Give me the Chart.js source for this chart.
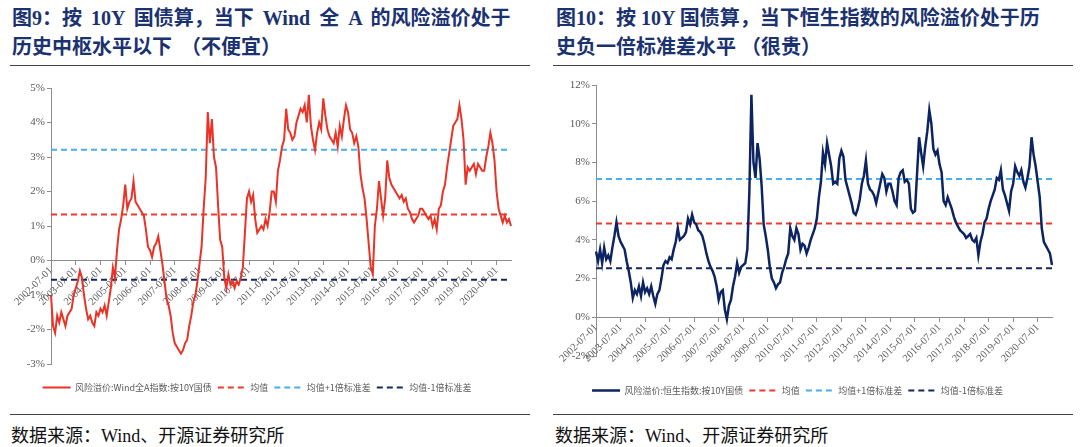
<!DOCTYPE html>
<html>
<head>
<meta charset="utf-8">
<script src="https://cdn.jsdelivr.net/npm/chart.js@4.4.0/dist/chart.umd.min.js"></script>
<style>
  body { margin: 0; background: #fff; width: 1080px; height: 447px; position: relative; overflow: hidden; }
  .title { position: absolute; top: 4px; font-family: "Liberation Serif", "Noto Sans CJK SC", serif; font-weight: bold;
           font-size: 20px; line-height: 29px; color: #1b3270; white-space: nowrap; }
  .rule { position: absolute; height: 1px; background: #444; }
  .src { position: absolute; top: 421px; font-family: "Liberation Serif", "Noto Sans CJK SC", serif; font-size: 18px; color: #111; }
  .box { position: absolute; top: 72px; width: 540px; height: 325px; }
</style>
</head>
<body>
<div class="title" style="left:12px; word-spacing:4px">图9：按 10Y 国债算，当下 Wind 全 A 的风险溢价处于<br>历史中枢水平以下 （不便宜）</div>
<div class="title" style="left:556px">图10：按 10Y 国债算，当下恒生指数的风险溢价处于历<br>史负一倍标准差水平 （很贵）</div>
<div class="rule" style="left:10px; width:520px; top:65px"></div>
<div class="rule" style="left:553px; width:520px; top:65px"></div>
<div class="box" style="left:0px"><canvas id="chart-a"></canvas></div>
<div class="box" style="left:540px"><canvas id="chart-h"></canvas></div>
<div class="rule" style="left:10px; width:520px; top:414px"></div>
<div class="rule" style="left:553px; width:520px; top:414px"></div>
<div class="src" style="left:11px">数据来源：Wind、开源证券研究所</div>
<div class="src" style="left:555px">数据来源：Wind、开源证券研究所</div>
<script>
// monthly points, 2002-07 .. 2021-02
const TICK_LABELS = ["2002-07-01", "2003-07-01", "2004-07-01", "2005-07-01", "2006-07-01", "2007-07-01", "2008-07-01",
  "2009-07-01", "2010-07-01", "2011-07-01", "2012-07-01", "2013-07-01", "2014-07-01", "2015-07-01", "2016-07-01",
  "2017-07-01", "2018-07-01", "2019-07-01", "2020-07-01"]

// 风险溢价:Wind全A指数:按10Y国债 (%)
const WIND_A = [
  -1.0, -1.9, -2.1, -1.6, -1.8, -1.5, -1.7, -1.9, -1.6, -1.5,
  -1.4, -1.0, -0.8, -0.6, -0.3, -0.5, -1.0, -1.4, -1.7, -1.6,
  -1.8, -1.9, -1.5, -1.6, -1.4, -1.5, -1.3, -1.6, -1.2, -0.8,
  -0.2, -0.5, 0.3, 0.9, 1.2, 1.6, 2.2, 1.5, 1.7, 1.8,
  2.3, 1.7, 1.6, 1.5, 1.4, 1.3, 0.9, 0.4, 0.3, 0.1,
  0.4, 0.5, 0.7, 0.3, -0.1, -0.6, -1.1, -1.3, -1.6, -2.1,
  -2.4, -2.5, -2.6, -2.7, -2.6, -2.4, -2.3, -1.9, -1.6, -1.2,
  -1.0, -0.6, -0.1, 0.4, 1.5, 2.4, 4.3, 3.4, 4.1, 3.0,
  2.7, 1.6, 0.6, 0.4, -0.5, -0.8, -0.4, -0.7, -0.6, -0.8,
  -0.6, -0.7, -0.5, -0.2, 0.8, 1.8, 2.0, 1.7, 1.9, 1.2,
  0.8, 0.9, 1.0, 0.9, 1.2, 1.0, 1.4, 2.0, 2.0, 1.7,
  2.6, 2.9, 3.3, 3.5, 4.4, 3.8, 3.7, 3.5, 3.6, 4.0,
  4.2, 4.4, 4.3, 4.5, 4.0, 4.8, 3.9, 3.5, 3.2, 3.7,
  4.0, 3.8, 4.7, 4.2, 3.8, 3.6, 3.5, 3.4, 3.7, 3.3,
  3.9, 3.6, 4.1, 4.5, 4.3, 3.8, 3.7, 3.4, 3.6, 3.3,
  2.5, 2.1, 1.8, 1.2, 0.5, -0.2, -0.4, 1.0, 1.5, 2.3,
  1.8, 1.3, 1.8, 2.9, 2.4, 2.2, 2.1, 2.0, 1.9, 1.8,
  1.9, 1.7, 1.8, 1.5, 1.4, 1.2, 1.1, 1.2, 1.3, 1.5,
  1.5, 1.4, 1.3, 1.2, 1.3, 1.0, 1.2, 0.9, 1.5, 1.6,
  2.0, 2.2, 2.7, 3.1, 3.5, 3.9, 4.0, 4.1, 4.5, 4.1,
  3.5, 2.2, 2.7, 2.6, 2.7, 2.8, 2.5, 2.8, 2.7, 2.6,
  2.6, 3.0, 3.3, 3.7, 3.4, 2.9, 2.0, 1.5, 1.3, 1.1,
  1.3, 1.1, 1.2, 1.0
]
const WIND_A_MEAN = 1.33
const WIND_A_UP = 3.21
const WIND_A_DOWN = -0.56

// 风险溢价:恒生指数:按10Y国债 (%)
const HSI = [
  3.4, 2.9, 3.5, 2.8, 3.6, 3.0, 3.2, 2.9, 3.6, 4.2,
  4.9, 4.2, 3.9, 3.7, 3.5, 2.9, 2.4, 1.8, 1.0, 1.4,
  1.2, 1.6, 1.1, 1.8, 1.3, 1.5, 1.2, 1.6, 1.1, 0.7,
  1.2, 1.4, 2.0, 2.7, 2.9, 2.8, 3.1, 3.0, 3.5, 3.9,
  4.6, 4.0, 4.1, 4.2, 4.4, 5.1, 4.8, 5.3, 4.9, 4.8,
  4.5, 4.4, 4.2, 3.8, 3.3, 2.9, 2.6, 2.4, 2.1, 1.6,
  0.9, 1.3, 1.4, 0.4, -0.1, 0.6, 0.9, 1.6, 2.1, 2.8,
  2.3, 2.6, 2.7, 2.8, 3.5, 6.5, 11.5, 8.0, 7.2, 9.0,
  8.2, 6.8, 4.8, 4.2, 3.5, 2.6, 2.0, 1.8, 1.5, 1.7,
  1.8, 2.3, 2.6, 3.0, 3.3, 4.6, 4.2, 4.0, 4.6, 4.3,
  3.5, 3.8, 3.7, 3.3, 3.6, 4.0, 4.3, 4.6, 5.1, 6.2,
  7.0, 8.5, 7.9, 9.0, 8.4, 7.8, 6.9, 7.0, 6.9, 8.2,
  8.6, 8.3, 7.1, 6.7, 6.3, 5.9, 5.4, 5.3, 5.6, 6.1,
  6.9, 7.3, 8.1, 6.9, 6.6, 6.5, 6.3, 5.9, 6.4, 6.9,
  7.4, 7.2, 6.5, 6.9, 6.9, 6.5, 6.0, 5.8, 7.2, 7.5,
  7.6, 7.0, 7.1, 6.9, 5.6, 5.4, 5.5, 7.4, 9.3, 8.5,
  7.8, 8.8, 9.6, 10.7, 10.0, 8.7, 8.4, 8.6, 7.9, 7.5,
  6.0, 5.8, 6.2, 5.9, 5.6, 5.2, 4.9, 4.7, 4.5, 4.4,
  4.3, 4.1, 4.2, 4.3, 4.0, 3.9, 4.1, 3.2, 3.9, 4.3,
  4.9, 5.1, 5.6, 6.0, 6.3, 6.6, 7.2, 7.1, 7.6, 6.6,
  6.3, 5.9, 5.5, 6.5, 6.9, 7.8, 7.5, 7.3, 7.6, 7.0,
  6.7, 7.2, 7.8, 9.3, 8.4, 7.8, 7.0, 6.2, 4.6, 3.9,
  3.7, 3.5, 3.3, 2.7
]
const HSI_MEAN = 4.84
const HSI_UP = 7.15
const HSI_DOWN = 2.53

const GREY = "#595959"
const SERIF = "'Liberation Serif', 'Times New Roman', serif"
const CJK = "'Noto Sans CJK SC', sans-serif"

// month labels for the category axis
var meses = []
for (let i = 0; i < WIND_A.length; i++) {
    let y = 2002 + Math.floor((6 + i) / 12)
    let m = (6 + i) % 12 + 1
    meses.push(y + "-" + (m < 10 ? "0" + m : m))
}

function nivel(valor) {
    return meses.map(() => valor)
}

// push the legend a few px lower than Chart.js puts it
const bajarLeyenda = {
    id: "bajarLeyenda",
    afterLayout(chart, args, opts) {
        chart.legend.top += opts.dy
        chart.legend.bottom += opts.dy
    }
}

function makeChart(id, nombre, serie, color, ancho, media, arriba, abajo, ymin, ymax, ystep, ejeY, pad, dy) {
    var ctx = document.getElementById(id).getContext("2d");
    return new Chart(ctx, {
        type: "line",
        data: {
            labels: meses,
            datasets: [{
                    label: nombre,
                    data: serie,
                    borderColor: color,
                    backgroundColor: color,
                    borderWidth: ancho,
                    pointRadius: 0,
                    tension: 0
                },
                {
                    label: "均值",
                    data: nivel(media),
                    borderColor: "#ee3a2c",
                    backgroundColor: "#ee3a2c",
                    borderWidth: 2,
                    borderDash: [6, 4],
                    pointRadius: 0
                },
                {
                    label: "均值+1倍标准差",
                    data: nivel(arriba),
                    borderColor: "#4aaee8",
                    backgroundColor: "#4aaee8",
                    borderWidth: 2,
                    borderDash: [6, 4],
                    pointRadius: 0
                },
                {
                    label: "均值-1倍标准差",
                    data: nivel(abajo),
                    borderColor: "#13295e",
                    backgroundColor: "#13295e",
                    borderWidth: 2,
                    borderDash: [6, 4],
                    pointRadius: 0
                }
            ]
        },
        plugins: [bajarLeyenda],
        options: {
            responsive: true,
            maintainAspectRatio: false,
            animation: false,
            layout: { padding: pad },
            plugins: {
                tooltip: { enabled: false },
                bajarLeyenda: { dy: dy },
                legend: {
                    position: "bottom",
                    labels: {
                        boxWidth: 28,
                        boxHeight: 0,
                        padding: 6,
                        color: GREY,
                        font: { family: CJK, size: 9 }
                    }
                }
            },
            scales: {
                x: {
                    position: { y: 0 },
                    grid: { drawOnChartArea: false, tickLength: 4, color: "#8c8c8c" },
                    border: { color: "#8c8c8c" },
                    ticks: {
                        autoSkip: false,
                        maxRotation: 45,
                        minRotation: 45,
                        padding: 0,
                        color: GREY,
                        font: { family: SERIF, size: 10.5 },
                        callback: function (value, index) {
                            let m = meses[index]
                            if (m.endsWith("-07")) return TICK_LABELS[(index / 12)]
                            return null
                        }
                    }
                },
                y: {
                    min: ymin,
                    max: ymax,
                    afterFit: (scale) => { scale.width = ejeY },
                    grid: { drawOnChartArea: false, tickLength: 4, color: "#8c8c8c" },
                    border: { color: "#8c8c8c" },
                    ticks: {
                        stepSize: ystep,
                        padding: 2,
                        color: GREY,
                        font: { family: SERIF, size: 11 },
                        callback: (v) => v + "%"
                    }
                }
            }
        }
    });
}

makeChart("chart-a", "风险溢价:Wind全A指数:按10Y国债", WIND_A, "#ea3326", 2,
    WIND_A_MEAN, WIND_A_UP, WIND_A_DOWN, -3, 5, 1, 48,
    { left: 3, right: 29, top: 16, bottom: 8 }, 13)
makeChart("chart-h", "风险溢价:恒生指数:按10Y国债", HSI, "#0c2461", 2.5,
    HSI_MEAN, HSI_UP, HSI_DOWN, -2, 12, 2, 53,
    { left: 3, right: 28, top: 13, bottom: 16 }, 24)
</script>
</body>
</html>
